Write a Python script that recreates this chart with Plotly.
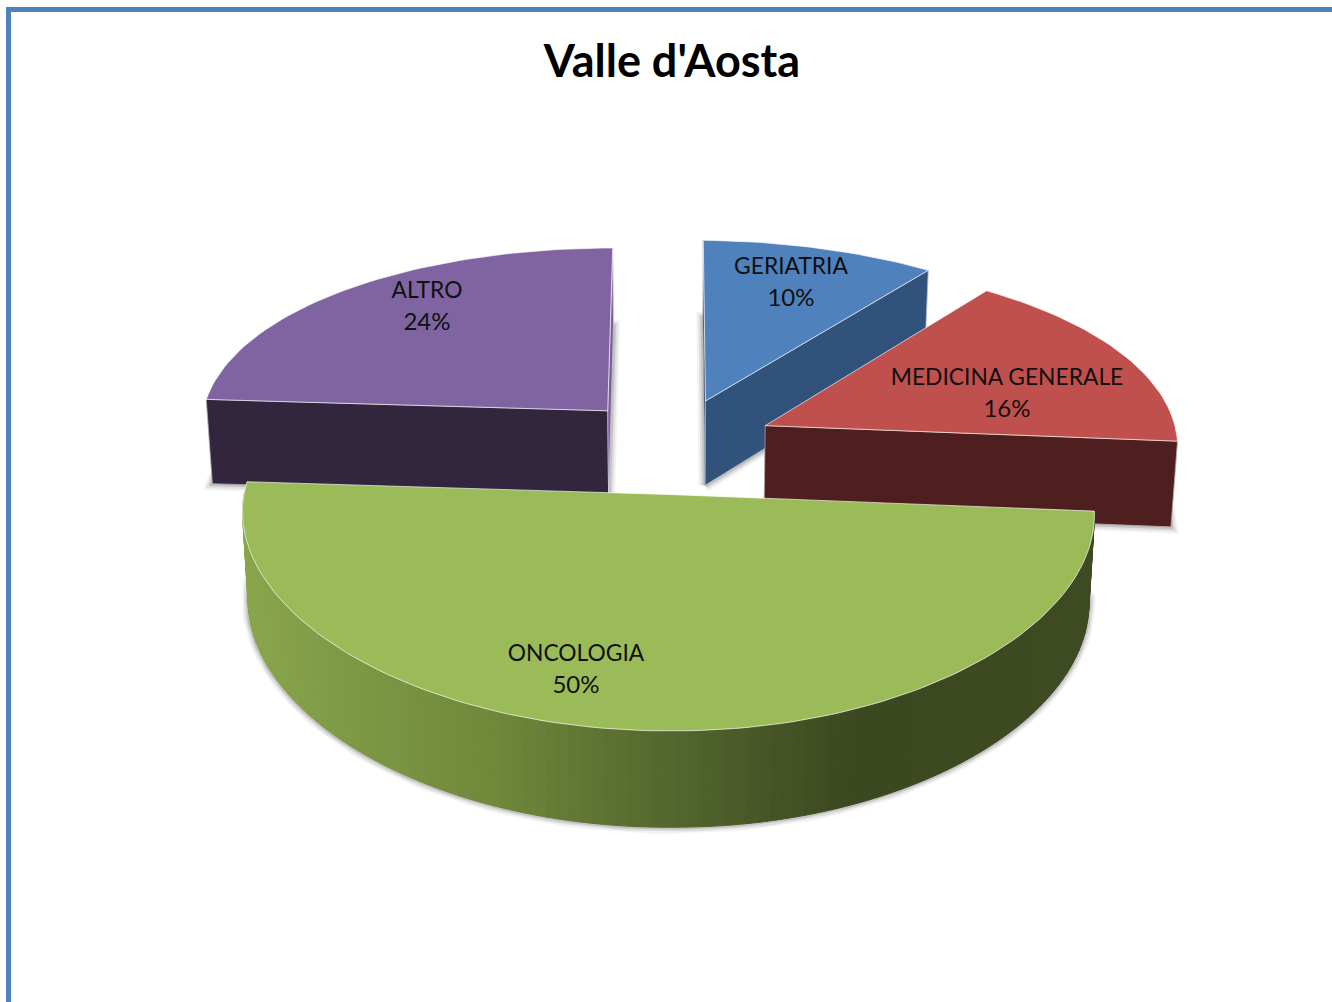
import math
import plotly.graph_objects as go

# ---- data ----
categories = ["GERIATRIA", "MEDICINA GENERALE", "ONCOLOGIA", "ALTRO"]
values = [10, 16, 50, 24]
title = "Valle d'Aosta"

# ---- styling ----
top_colors = ["#4f81bd", "#c0504d", "#9bbb59", "#8064a2"]
start_face = ["#1d3553", "#4f1e1e", "#3d4a20", "#32263f"]
end_face = ["#31527b", "#4f1e1e", "#3d4a20", "#7a5f9c"]
arc_face = ["#31527b", "#4f1e1e", None, "#32263f"]
draw_order = [3, 0, 1, 2]
label_x = [791, 1007, 576, 427]
label_name_y = [268, 379, 655, 292]
label_pct_y = [300, 411, 687, 324]
grad_stops = [(245, (137, 165, 76)), (330, (128, 155, 70)), (500, (110, 135, 58)),
              (650, (86, 106, 47)), (850, (60, 72, 32)), (1090, (62, 74, 33))]

CX, CY, A, B = 675, 445, 414, 192
KX, KY = 0.08, 0.1287
EX, EY, H, SHRINK = 0.243, 0.25, 86, 0.013


def project(X, Y, low=False):
    wx = 1 + KX * Y
    wy = 1 + KY * Y
    near = 1.005 if Y < 0 else 1.0
    sx = CX + A * near * X / wx
    if Y > 0 and X < 0:
        sx += 3.5 * (-X)
    sy = CY - B * Y / wy + 3.7 * max(0, X)
    if low:
        sx = CX + (sx - CX) * (1 - SHRINK)
        sy += H / wy ** 0.65
    return sx, sy


def grad(x):
    for (x0, c0), (x1, c1) in zip(grad_stops, grad_stops[1:]):
        if x <= x1:
            t = max(0, (x - x0) / (x1 - x0))
            return "rgb(%d,%d,%d)" % tuple(round(a + (b - a) * t) for a, b in zip(c0, c1))
    return "rgb(%d,%d,%d)" % grad_stops[-1][1]


fig = go.Figure()


def poly(pts, fill=None, line=None, width=0, closed=True):
    xs = [p[0] for p in pts] + ([pts[0][0]] if closed else [])
    ys = [p[1] for p in pts] + ([pts[0][1]] if closed else [])
    fig.add_trace(go.Scatter(
        x=xs, y=ys, mode="lines", hoverinfo="skip", showlegend=False,
        fill="toself" if fill else None, fillcolor=fill,
        line=dict(color=line or "rgba(0,0,0,0)", width=width),
    ))


def area(q):
    return sum(q[i][0] * q[(i + 1) % len(q)][1] - q[(i + 1) % len(q)][0] * q[i][1]
               for i in range(len(q))) / 2


total = sum(values)
bounds = []
acc = 0
for v in values:
    bounds.append((acc / total * 2 * math.pi, (acc + v) / total * 2 * math.pi))
    acc += v

for i in draw_order:
    a0, a1 = bounds[i]
    mid = (a0 + a1) / 2
    ox, oy = EX * math.sin(mid), EY * math.cos(mid)
    n = max(8, int(values[i] * 2.4))
    angs = [a0 + (a1 - a0) * k / n for k in range(n + 1)]
    rim = [(ox + math.sin(t), oy + math.cos(t)) for t in angs]
    top = [project(ox, oy)] + [project(*p) for p in rim]
    low = [project(ox, oy, True)] + [project(*p, True) for p in rim]

    # soft shadow around the base
    for wd, al in ((13, 0.05), (9, 0.08), (5, 0.12)):
        poly(low, None, f"rgba(0,0,0,{al})", wd)

    # radial faces
    q0 = [top[0], top[1], low[1], low[0]]
    q1 = [top[0], top[-1], low[-1], low[0]]
    if area(q0) < 0:
        poly(q0, start_face[i], start_face[i], 0.5)
        poly(q0, None, "rgba(255,255,255,0.45)", 1)
    if area(q1) > 0:
        poly(q1, end_face[i], end_face[i], 0.5)
        poly(q1, None, "rgba(255,255,255,0.45)", 1)

    # outer wall
    for k in range(n):
        if math.cos((angs[k] + angs[k + 1]) / 2) >= 0:
            continue
        q = [top[k + 1], top[k + 2], low[k + 2], low[k + 1]]
        if arc_face[i] is None:
            col = grad((q[0][0] + q[1][0]) / 2)
            poly(q, col, col, 1)

    # top face
    poly(top, top_colors[i], "rgba(255,255,255,0.65)", 1)

# data labels
fig.add_trace(go.Scatter(
    x=label_x, y=label_name_y, mode="text", text=categories,
    textposition="middle center", hoverinfo="skip", showlegend=False,
    textfont=dict(family="Lato, Open Sans, sans-serif", size=22.8, color="#101010"),
))
fig.add_trace(go.Scatter(
    x=label_x, y=label_pct_y, mode="text", text=[f"{v}%" for v in values],
    textposition="middle center", hoverinfo="skip", showlegend=False,
    textfont=dict(family="Lato, Open Sans, sans-serif", size=24, color="#101010"),
))

fig.update_layout(
    width=1332, height=1002, margin=dict(l=0, r=0, t=0, b=0),
    paper_bgcolor="white", plot_bgcolor="white",
    xaxis=dict(range=[0, 1332], visible=False, fixedrange=True),
    yaxis=dict(range=[1002, 0], visible=False, fixedrange=True),
    title=dict(text=f"<b>{title}</b>", x=672 / 1332, y=1 - 61 / 1002, xanchor="center",
               yanchor="middle", font=dict(family="Lato, Open Sans, sans-serif", size=45, color="#000000")),
    shapes=[dict(type="rect", xref="x", yref="y", x0=8.5, y0=9.5, x1=1400, y1=1100,
                 line=dict(color="#4f81bd", width=5), layer="below")],
)

fig.write_html("out.html", post_script="document.body.style.margin='0';", config={"displayModeBar": False})
